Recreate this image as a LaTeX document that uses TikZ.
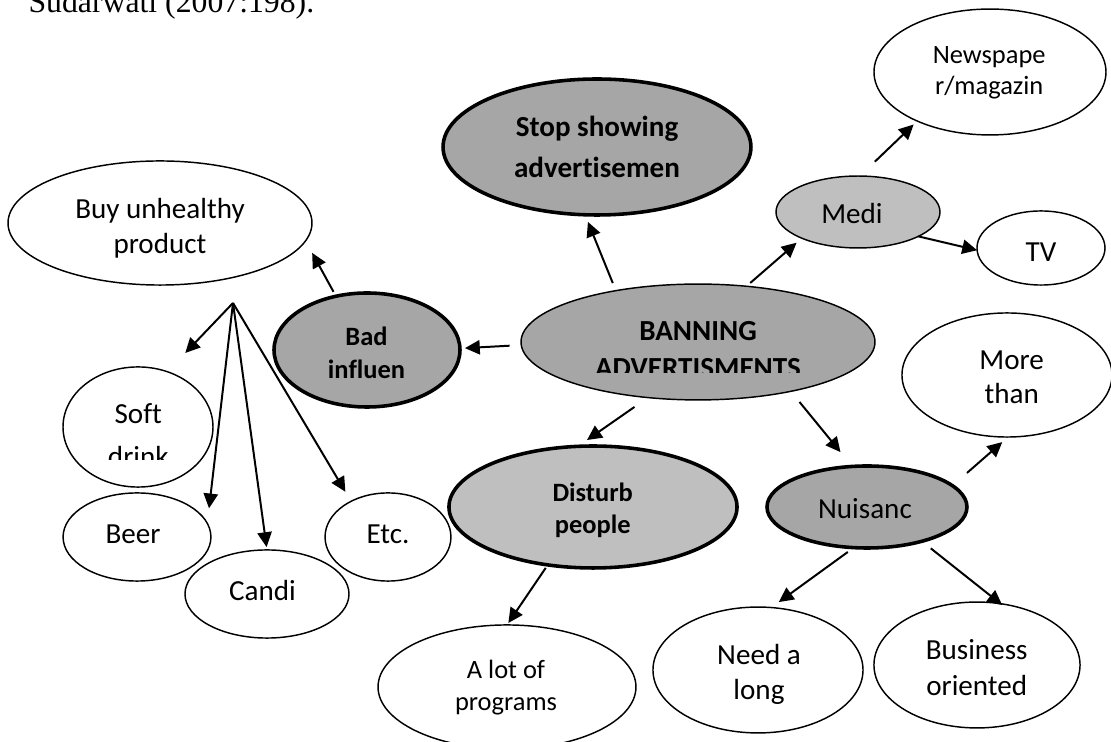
\documentclass[tikz,border=0pt]{standalone}
\usepackage{fontspec}
\setmainfont[Ligatures=NoCommon]{Carlito}
\newfontfamily\serifsrc{Liberation Serif}
\usetikzlibrary{shapes.geometric,arrows.meta}
\definecolor{dk}{HTML}{A6A6A6}
\definecolor{lt}{HTML}{BFBFBF}
\newcommand\twolines[2]{\vtop{\baselineskip=#1\lineskiplimit=-20pt\lineskip=0pt\halign{\hfil##\hfil\cr#2\crcr}}}
\begin{document}
\begin{tikzpicture}[x=0.378pt,y=-0.378pt,
  el/.style={ellipse, draw=black, inner sep=0pt, outer sep=0pt, line width=0.55pt, fill=white},
  elk/.style={el, line width=1.35pt},
  t11/.style={font=\fontsize{11}{13}\selectfont, inner sep=0pt, anchor=base},
  t11b/.style={font=\bfseries\fontsize{11}{13}\selectfont, inner sep=0pt, anchor=base},
  t10/.style={font=\fontsize{10}{12}\selectfont, inner sep=0pt, anchor=base},
  t10b/.style={font=\bfseries\fontsize{10}{12}\selectfont, inner sep=0pt, anchor=base},
  arr/.style={line width=0.75pt, -{Triangle[length=5.6pt,width=5.4pt]}}]
\useasboundingbox (0,0) rectangle (1111,742);

% source line (cut at the top, as in the reference)
\node[anchor=base west, inner sep=0pt, font=\serifsrc\fontsize{12}{14}\selectfont] (src) at (28,13) {Sudarwati (2007:198).};

% ellipses
\node[elk, fill=dk, minimum width=116.4pt, minimum height=51.4pt] (stop) at (597,147) {};
\node[el,  fill=dk, minimum width=133.8pt, minimum height=43.8pt] (ban) at (698,342) {};
\node[el,  minimum width=114.9pt, minimum height=46.9pt] (buy) at (160,223) {};
\node[elk, fill=dk, minimum width=70.3pt, minimum height=43.1pt] (bad) at (367,350) {};
\node[el,  minimum width=56.7pt, minimum height=45.4pt] (soft) at (138,427) {};
\node[el,  minimum width=55.9pt, minimum height=33.3pt] (beer) at (137,537) {};
\node[el,  minimum width=62.0pt, minimum height=33.3pt] (candi) at (267,594) {};
\node[el,  minimum width=47.6pt, minimum height=33.3pt] (etc) at (388,537) {};
\node[elk, fill=lt, minimum width=108.9pt, minimum height=46.1pt] (dist) at (593,507) {};
\node[el,  minimum width=97.5pt, minimum height=46.9pt] (lot) at (507,687) {};
\node[elk, fill=dk, minimum width=75.6pt, minimum height=31.0pt] (nui) at (867,507) {};
\node[el,  minimum width=79.4pt, minimum height=46.9pt] (more) at (1007,375) {};
\node[el,  minimum width=79.4pt, minimum height=47.6pt] (need) at (758,670) {};
\node[el,  minimum width=77.9pt, minimum height=47.6pt] (bus) at (977,665) {};
\node[el,  minimum width=87.7pt, minimum height=47.6pt] (news) at (990,72) {};
\node[el,  fill=lt, minimum width=62.0pt, minimum height=27.2pt] (medi) at (858,212) {};
\node[el,  minimum width=48.4pt, minimum height=28.0pt] (tv) at (1041,248) {};

% texts
\node[t11b] (stop-t) at (597,137) {\twolines{15.3pt}{Stop showing\cr advertisemen}};
\begin{scope}
  \clip (500,290) rectangle (900,373);
  \node[t11b] (ban-t) at (698,341) {\twolines{13.8pt}{BANNING\cr ADVERTISMENTS}};
\end{scope}
\node[t11] (buy-t) at (160,218.3) {\twolines{13.2pt}{Buy unhealthy\cr product}};
\node[t10b] (bad-t) at (366.5,345.7) {\twolines{12.3pt}{Bad\cr influen}};
\begin{scope}
  \clip (60,380) rectangle (220,460);
  \node[t11] (soft-t) at (138.3,423.3) {\twolines{16.3pt}{Soft\cr drink}};
\end{scope}
\node[t11] (beer-t) at (133,544) {Beer};
\node[t11] (candi-t) at (262.5,600.7) {Candi};
\node[t11] (etc-t) at (388,544) {Etc.};
\node[t10b] (dist-t) at (592.7,501.7) {\twolines{12pt}{Disturb\cr people}};
\node[t10] (lot-t) at (506,678.3) {\twolines{12pt}{A lot of\cr programs}};
\node[t11] (nui-t) at (865,518.3) {Nuisanc};
\node[t11] (more-t) at (1011.7,369.3) {\twolines{13.1pt}{More\cr than}};
\node[t11] (need-t) at (759,665) {\twolines{13.2pt}{Need a\cr long}};
\node[t11] (bus-t) at (976.7,659.3) {\twolines{13.5pt}{Business\cr oriented}};
\node[t10] (news-t) at (989.2,63.3) {\twolines{11.7pt}{Newspape\cr r/magazin}};
\node[t11] (medi-t) at (852,224) {Medi};
\node[t11] (tv-t) at (1041,262) {TV};

% connectors
\coordinate (hub) at (233,303);
\draw[arr, shorten <=3.1pt, shorten >=2.9pt] (ban.148.3) -- (stop.260.1);
\draw[arr, shorten <=4.4pt, shorten >=1.9pt] (ban.181.6) -- (bad.1.85);
\draw[arr, shorten <=1.9pt, shorten >=5.2pt] (bad.120.5) -- (buy.353);
\draw[arr, shorten >=9.8pt] (hub) -- (soft.62.3);
\draw[arr, shorten >=5.7pt] (hub) -- (beer.11.2);
\draw[arr, shorten >=1.1pt] (hub) -- (candi.90.8);
\draw[arr, shorten >=4.2pt] (hub) -- (etc.136.4);
\draw[arr, shorten <=1.9pt, shorten >=2.6pt] (ban.49.1) -- (medi.205.4);
\draw[arr, shorten <=7.8pt, shorten >=1.9pt] (medi.87) -- (news.214.8);
\draw[arr] (medi.338.1) -- (tv.182.7);
\draw[arr, shorten <=6.2pt, shorten >=4.2pt] (ban.228.4) -- (dist.104.1);
\draw[arr, shorten <=1.4pt, shorten >=0.9pt] (dist.232.9) -- (lot.90.4);
\draw[arr, shorten <=5.2pt, shorten >=7.0pt] (ban.332.2) -- (nui.110.8);
\draw[arr, shorten <=7.3pt, shorten >=2.9pt] (nui.14.1) -- (more.271.7);
\draw[arr, shorten <=2.8pt, shorten >=3.5pt] (nui.252.4) -- (need.78.8);
\draw[arr, shorten <=4.3pt, shorten >=-0.8pt] (nui.328.95) -- (bus.69.2);
\end{tikzpicture}
\end{document}
